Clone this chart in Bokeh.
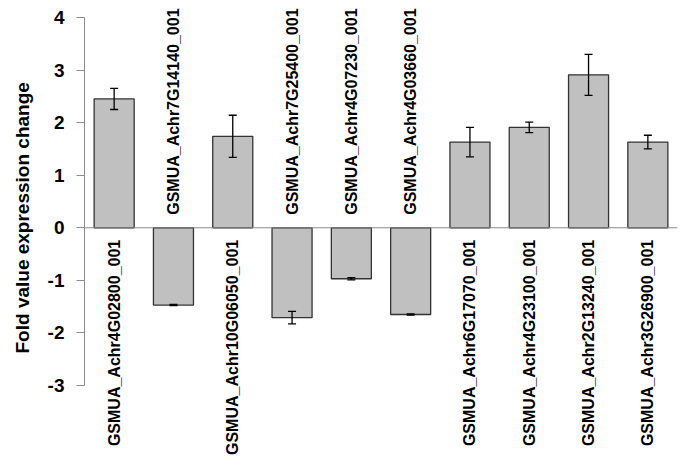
from bokeh.plotting import figure
from bokeh.models import ColumnDataSource, Range1d, FactorRange, Whisker, LabelSet, Span, FixedTicker, Title
from bokeh.core.properties import value
from bokeh.embed import file_html
from bokeh.resources import INLINE

genes = ["GSMUA_Achr4G02800_001", "GSMUA_Achr7G14140_001", "GSMUA_Achr10G06050_001",
         "GSMUA_Achr7G25400_001", "GSMUA_Achr4G07230_001", "GSMUA_Achr4G03660_001",
         "GSMUA_Achr6G17070_001", "GSMUA_Achr4G23100_001", "GSMUA_Achr2G13240_001",
         "GSMUA_Achr3G26900_001"]
values = [2.45, -1.47, 1.74, -1.71, -0.97, -1.65, 1.63, 1.91, 2.91, 1.63]
errors = [0.20, 0.012, 0.40, 0.12, 0.02, 0.012, 0.28, 0.10, 0.39, 0.13]
y_ticks = [-3, -2, -1, 0, 1, 2, 3, 4]
y_tick_labels = ["-3", "-2", "-1", "0", "1", "2", "3", "4"]
y_title = "Fold value expression change"

FONT = "Liberation Sans"

src = ColumnDataSource(dict(
    gene=genes,
    value=values,
    upper=[v + e for v, e in zip(values, errors)],
    lower=[v - e for v, e in zip(values, errors)],
    zero=[0] * len(genes),
    align=["right" if v > 0 else "left" for v in values],
    yoff=[-12 if v > 0 else 13 for v in values],
))

p = figure(width=683, height=468, x_range=FactorRange(*genes), y_range=Range1d(-4.465, 4.247),
           output_backend="svg", toolbar_location=None,
           min_border_left=84, min_border_right=6, min_border_top=4, min_border_bottom=6)
p.outline_line_color = None
p.grid.grid_line_color = None
p.xaxis.visible = False

p.vbar(x="gene", top="value", bottom=0, width=0.675, source=src,
       fill_color="#c0c0c0", line_color="#333333", line_width=1.3)

p.add_layout(Span(location=0, dimension="width", line_color="#8c8c8c", line_width=1))

w = Whisker(source=src, base="gene", upper="upper", lower="lower",
            line_color="black", line_width=1.3, level="overlay")
w.upper_head.size = 8
w.lower_head.size = 8
w.upper_head.line_width = 1.3
w.lower_head.line_width = 1.3
p.add_layout(w)

labels = LabelSet(x="gene", y="zero", text="gene", source=src, angle=1.5708,
                  text_align="align", y_offset="yoff", text_baseline="middle",
                  text_font=value(FONT), text_font_size="16px", text_font_style="bold",
                  text_color="black")
p.add_layout(labels)

ax = p.yaxis[0]
ax.ticker = FixedTicker(ticks=y_ticks)
ax.major_label_overrides = {t: s for t, s in zip(y_ticks, y_tick_labels)}
ax.bounds = (-3, 4)
ax.axis_line_color = "#8c8c8c"
ax.major_tick_line_color = "#8c8c8c"
ax.major_tick_out = 8
ax.major_tick_in = 0
ax.minor_tick_line_color = None
ax.major_label_standoff = 12
ax.major_label_text_font = FONT
ax.major_label_text_font_size = "19px"
ax.major_label_text_font_style = "bold"
ax.major_label_text_color = "black"

title = Title(text=y_title, align="left", offset=109, vertical_align="top",
              text_font=FONT, text_font_size="19px", text_font_style="bold",
              text_color="black", standoff=20)
p.add_layout(title, "left")

open("out.html", "w").write(file_html(p, INLINE))
